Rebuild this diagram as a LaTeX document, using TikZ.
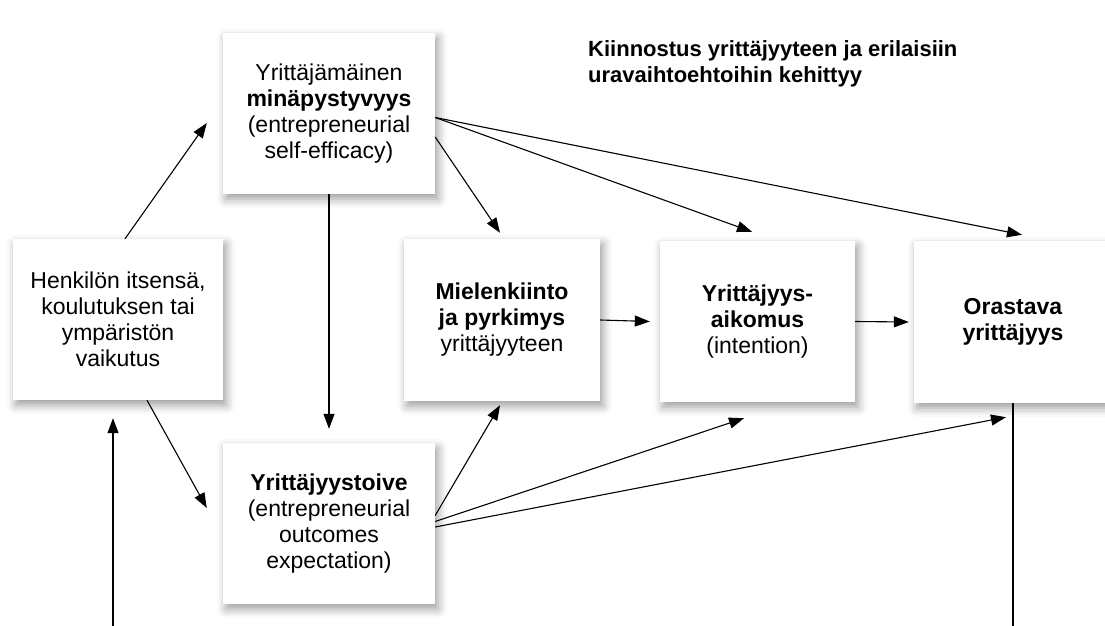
\documentclass[tikz,border=0pt]{standalone}
\usepackage{fontspec}
\setmainfont{Liberation Sans}
\usetikzlibrary{arrows.meta,positioning,shadows.blur}

\tikzset{
  box/.style={fill=white, inner sep=0pt, align=center,
    font=\fontsize{23}{26}\selectfont,
    blur shadow={shadow xshift=3pt, shadow yshift=-5pt,
      shadow blur radius=9pt, shadow opacity=40}},
  link/.style={-{Triangle[length=15pt,width=11pt]}, line width=1.1pt},
  heading/.style={align=left, inner sep=0pt,
    font=\fontsize{22}{26}\selectfont\bfseries}
}

\begin{document}
\begin{tikzpicture}[x=1pt,y=-1pt]
\useasboundingbox (0,0) rectangle (1105,626);
%draw heading
\node[heading, anchor=base west] (head) at (588,82)
  {Kiinnostus yrittäjyyteen ja erilaisiin\\ uravaihtoehtoihin kehittyy};
%draw boxes
\node[box, minimum width=210pt, minimum height=161pt] (infl) at (118,319.5)
  {Henkilön itsensä,\\ koulutuksen tai\\ ympäristön\\ vaikutus};
\node[box, minimum width=212pt, minimum height=161pt] (mina) at (329,113.5)
  {Yrittäjämäinen\\ \textbf{minäpystyvyys}\\ (entrepreneurial\\ self-efficacy)};
\node[box, minimum width=212pt, minimum height=161pt] (toive) at (329,523.5)
  {\textbf{Yrittäjyystoive}\\ (entrepreneurial\\ outcomes\\ expectation)};
\node[box, minimum width=196pt, minimum height=162pt] (kiin) at (502,320)
  {\textbf{Mielenkiinto}\\ \textbf{ja pyrkimys}\\ yrittäjyyteen};
\node[box, minimum width=195pt, minimum height=161pt] (aik) at (757.5,321.5)
  {\textbf{Yrittäjyys-}\\ \textbf{aikomus}\\ (intention)};
\node[box, minimum width=198pt, minimum height=162pt] (oras) at (1013,322)
  {\textbf{Orastava}\\ \textbf{yrittäjyys}};
%loose ends at the bottom
\coordinate (loopL) at (113,626);
\coordinate (loopR) at (1013,626);
%arrows from the left box
\draw[link] ([xshift=7pt]infl.north) -- ([shift={(-16pt,-9.5pt)}]mina.west);
\draw[link] ([xshift=29pt]infl.south) -- ([shift={(-16pt,15.5pt)}]toive.west);
%arrows from self-efficacy
\draw[link] (mina.south) -- ([yshift=14pt]toive.north);
\draw[link] ([yshift=-23.5pt]mina.east) -- ([shift={(-2pt,6pt)}]kiin.north);
\draw[link] ([yshift=-4pt]mina.east) -- ([shift={(-5.5pt,9pt)}]aik.north);
\draw[link] ([yshift=-4pt]mina.east) -- ([shift={(9pt,6pt)}]oras.north);
%arrows from outcome expectation
\draw[link] ([yshift=8pt]toive.east) -- ([shift={(-2pt,-4pt)}]kiin.south);
\draw[link] ([yshift=2pt]toive.east) -- ([shift={(-13.5pt,-16pt)}]aik.south);
\draw[link] ([yshift=-3.5pt]toive.east) -- ([shift={(-7pt,-14pt)}]oras.south);
%arrows along the middle row
\draw[link] (kiin.east) -- ([xshift=-10pt]aik.west);
\draw[link] (aik.east) -- ([xshift=-5pt]oras.west);
%feedback lines
\draw[line width=1.1pt] (oras.south) -- (loopR);
\draw[link] (loopL) -- ([shift={(-5pt,-18pt)}]infl.south);
\end{tikzpicture}
\end{document}
